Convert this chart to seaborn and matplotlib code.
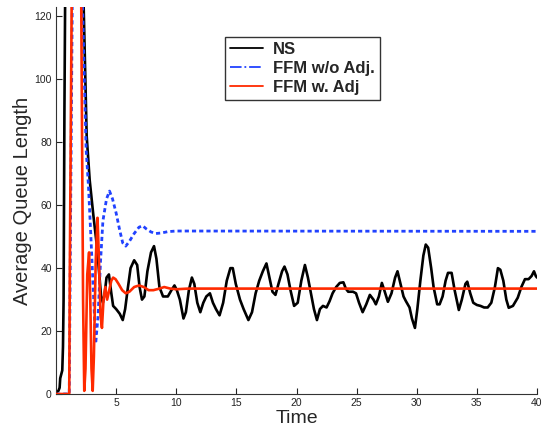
import numpy as np
import pandas as pd
import matplotlib
matplotlib.use('Agg')
import matplotlib.pyplot as plt
from matplotlib.lines import Line2D
import seaborn as sns

# Dados (tempo, comprimento médio da fila)
t_ns = [0.0, 0.2, 0.3, 0.35, 0.45, 0.52, 0.58, 0.63, 0.7, 0.85, 1.2, 1.6, 2.0, 2.3,
        2.55, 2.8, 3.1, 3.4, 3.6, 3.75, 3.9, 4.05, 4.2, 4.4, 4.6, 4.75, 5.0, 5.3,
        5.55, 5.75, 5.95, 6.2, 6.5, 6.75, 6.95, 7.15, 7.35, 7.6, 7.9, 8.15, 8.35,
        8.6, 8.9, 9.3, 9.6, 9.85, 10.05, 10.3, 10.6, 10.8, 11.05, 11.3, 11.5, 11.75,
        12.0, 12.25, 12.5, 12.8, 13.05, 13.3, 13.6, 13.9, 14.2, 14.5, 14.7, 14.95,
        15.3, 15.6, 16.0, 16.3, 16.6, 16.9, 17.2, 17.5, 17.75, 18.0, 18.25, 18.5,
        18.8, 19.0, 19.25, 19.5, 19.8, 20.1, 20.4, 20.7, 20.95, 21.2, 21.45, 21.7,
        21.95, 22.2, 22.5, 22.75, 23.0, 23.3, 23.6, 23.9, 24.1, 24.3, 24.7, 24.95,
        25.2, 25.5, 25.8, 26.1, 26.4, 26.6, 26.85, 27.1, 27.3, 27.6, 27.9, 28.2,
        28.4, 28.65, 28.9, 29.1, 29.4, 29.6, 29.85, 30.05, 30.3, 30.55, 30.75,
        30.95, 31.2, 31.4, 31.7, 31.9, 32.15, 32.4, 32.6, 32.9, 33.15, 33.5, 33.75,
        34.05, 34.2, 34.45, 34.7, 35.0, 35.3, 35.6, 35.9, 36.2, 36.5, 36.75, 36.95,
        37.2, 37.45, 37.65, 38.0, 38.4, 38.7, 39.0, 39.3, 39.55, 39.75, 39.9, 40.0]
v_ns = [0.5, 1, 2, 5, 6.5, 7.5, 15, 30, 90, 180, 250, 240, 175, 123,
        82, 68, 57, 47, 38, 31, 29, 32, 37, 38, 32, 28, 27, 25.5,
        23.5, 27, 33, 40, 42.5, 41, 34, 30, 31, 39, 45, 47, 43,
        34, 31, 31, 33, 34.5, 33, 30, 24, 26, 33, 37, 35, 29,
        26, 29, 31, 32, 29, 27, 25, 29, 36, 40, 40, 35,
        30, 27, 23.5, 26, 32, 36, 39, 41.5, 37, 32.5, 31.5, 35,
        39, 40.5, 38, 33, 28, 29, 36, 41, 37, 32, 27, 23.5,
        27, 28, 27.5, 29.5, 32, 34, 35.3, 35.5, 33.5, 32.5, 32.5, 32,
        29, 26, 28.5, 31.5, 30, 28.5, 31, 35.3, 33, 29.3, 32, 37,
        39, 35, 31, 29.5, 27.5, 24, 21, 27, 36, 44, 47.5,
        46.5, 40, 34, 28.5, 28.5, 31, 36, 38.5, 38.5, 33, 26.7, 30,
        35, 35.7, 32, 29, 28.3, 28, 27.5, 27.5, 29, 34, 40, 39.5,
        36, 30, 27.4, 28, 30.6, 34, 36.5, 36.5, 37.5, 39, 37.5, 37]

t_sem = [0.0, 1.1, 1.2, 1.35, 1.6, 1.9, 2.2, 2.5, 2.7, 2.9, 3.1, 3.3, 3.5, 3.7,
         3.9, 4.2, 4.45, 4.7, 5.0, 5.3, 5.55, 5.8, 6.1, 6.5, 6.9, 7.2, 7.5, 7.9,
         8.3, 8.8, 9.3, 10.0, 40.0]
v_sem = [0, 0, 50, 123, 230, 200, 125, 78, 66, 50, 33, 16, 25, 42,
         55, 62, 64.5, 62, 57.5, 52, 48, 47, 48.5, 51, 53, 53.5, 52.5, 51.5,
         51, 51.2, 51.6, 51.8, 51.7]

t_com = [0.0, 1.1, 1.15, 1.3, 1.5, 1.7, 1.95, 2.1, 2.25, 2.35, 2.45, 2.6, 2.75,
         2.85, 2.95, 3.05, 3.15, 3.3, 3.45, 3.55, 3.7, 3.82, 3.95, 4.1, 4.25,
         4.4, 4.6, 4.75, 4.95, 5.2, 5.5, 5.8, 6.1, 6.5, 6.9, 7.3, 7.7, 8.1, 8.6,
         9.0, 9.5, 10.0, 11.0, 40.0]
v_com = [0, 0, 40, 123, 200, 260, 200, 123, 30, 1, 8, 38, 45,
         30, 8, 1, 12, 42, 56, 45, 25, 21, 30, 34, 30,
         32.5, 36, 37, 36.5, 35, 33, 32, 32.5, 34, 34.5, 34, 33, 33, 33.5,
         34, 33.5, 33.3, 33.5, 33.5]

rotulos = ['NS', 'FFM w/o Adj.', 'FFM w. Adj']
cores = ['black', '#2142ff', '#ff2a00']

sns.set_style('white')
plt.rcParams['font.family'] = ['Liberation Sans', 'DejaVu Sans']

fig = plt.figure(figsize=(5.47, 4.37), dpi=100)
ax = fig.add_axes([0.1024, 0.0984, 0.8793, 0.8856])

sns.lineplot(x=t_ns, y=v_ns, ax=ax, color=cores[0], lw=1.9, sort=False,
             estimator=None, zorder=1)
sns.lineplot(x=t_sem, y=v_sem, ax=ax, color=cores[1], lw=2.0, sort=False,
             estimator=None, zorder=2, dashes=False)
ax.lines[-1].set_dashes([1.5, 1.1])
sns.lineplot(x=t_com, y=v_com, ax=ax, color=cores[2], lw=1.9, sort=False,
             estimator=None, zorder=3)

ax.set_xlim(0, 40)
ax.set_ylim(0, 123)
ax.set_xticks([5, 10, 15, 20, 25, 30, 35, 40])
ax.set_yticks([0, 20, 40, 60, 80, 100, 120])
ax.tick_params(direction='in', length=4, width=0.8, labelsize=7.5, pad=3,
               colors='#222222', bottom=True, left=True)
for lado in ['top', 'right']:
    ax.spines[lado].set_visible(False)
for lado in ['left', 'bottom']:
    ax.spines[lado].set_color('#333333')
    ax.spines[lado].set_linewidth(0.8)

ax.set_xlabel('Time', fontsize=14, labelpad=1)
ax.set_ylabel('Average Queue Length', fontsize=14.5, labelpad=2)

handles = [Line2D([], [], color=cores[0], lw=1.3),
           Line2D([], [], color=cores[1], lw=1.3, ls='-.'),
           Line2D([], [], color=cores[2], lw=1.3)]
leg = ax.legend(handles, rotulos, loc='upper left',
                bbox_to_anchor=(0.351, 0.922), frameon=True, fancybox=False,
                prop={'weight': 'bold', 'size': 12}, handlelength=2.0,
                borderpad=0.3, labelspacing=0.22, handletextpad=0.6,
                borderaxespad=0)
leg.get_frame().set_edgecolor('black')
leg.get_frame().set_linewidth(1.0)

plt.savefig('out.png', dpi=100)
plt.close()
